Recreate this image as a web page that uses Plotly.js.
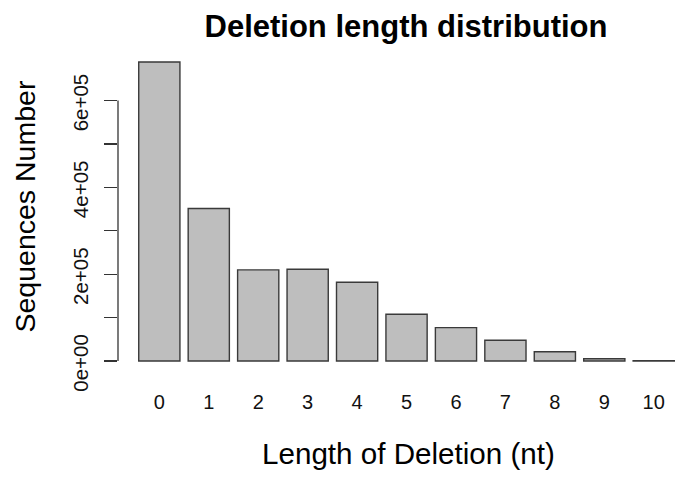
<!DOCTYPE html>
<html>
<head>
<meta charset="utf-8">
<script src="https://cdn.plot.ly/plotly-3.0.1.min.js"></script>
<style>html,body{margin:0;padding:0;background:#fff;}</style>
</head>
<body>
<div id="chart" style="width:675px;height:478px;"></div>
<script>
// Data
const deletionLengths = [0, 1, 2, 3, 4, 5, 6, 7, 8, 9, 10];
const sequenceCounts = [689000, 351500, 210000, 211600, 181600, 107800, 77000, 47800, 21500, 5300, 900];
const yTickVals = [0, 100000, 200000, 300000, 400000, 500000, 600000];
const yTickText = ['0e+00', '', '2e+05', '', '4e+05', '', '6e+05'];
const xTickText = deletionLengths.map(String);

const FONT = 'Liberation Sans, Arial, Helvetica, sans-serif';

// plot area in pixels (for placing titles)
const L = 118, T = 50, W = 557, H = 323;
const px2x = p => (p - L) / W;
const px2y = p => (T + H - p) / H;

const trace = {
  type: 'bar',
  x: deletionLengths,
  y: sequenceCounts,
  marker: { color: '#bebebe', line: { color: '#3a3a3a', width: 1.4 } },
  hoverinfo: 'skip'
};

const layout = {
  width: 675,
  height: 478,
  margin: { l: L, r: 0, t: T, b: 478 - T - H, pad: 0 },
  paper_bgcolor: '#ffffff',
  plot_bgcolor: '#ffffff',
  showlegend: false,
  bargap: 1 / 6,
  font: { family: FONT, color: '#000' },
  title: {
    text: '<b>Deletion length distribution</b>',
    font: { family: FONT, size: 31, color: '#000' },
    x: 406 / 675, xanchor: 'center', xref: 'container',
    y: 1 - 26 / 478, yanchor: 'middle', yref: 'container'
  },
  xaxis: {
    range: [-0.836, 10.43],
    tickvals: deletionLengths,
    ticktext: xTickText,
    showgrid: false, zeroline: false, showline: false,
    ticks: '',
    ticklabelstandoff: 15,
    tickfont: { family: FONT, size: 20, color: '#111' }
  },
  yaxis: {
    range: [-27560, 716600],
    tickvals: yTickVals,
    ticktext: yTickText,
    showgrid: false, zeroline: false, showline: false,
    ticks: 'outside', ticklen: 13, tickwidth: 1.3, tickcolor: '#333',
    tickangle: -90,
    ticklabelstandoff: 8,
    ticklabelshift: 5,
    tickfont: { family: FONT, size: 20.5, color: '#111' }
  },
  annotations: [
    { text: 'Length of Deletion (nt)', xref: 'paper', yref: 'paper',
      x: px2x(408.5), y: px2y(453), xanchor: 'center', yanchor: 'middle',
      showarrow: false, font: { family: FONT, size: 29.6, color: '#000' } },
    { text: 'Sequences Number', xref: 'paper', yref: 'paper', textangle: -90,
      x: px2x(24), y: px2y(206.5), xanchor: 'center', yanchor: 'middle',
      showarrow: false, font: { family: FONT, size: 28.5, color: '#000' } }
  ],
  shapes: [
    { type: 'line', xref: 'paper', yref: 'y', x0: 0, x1: 0, y0: 0, y1: 600000,
      line: { color: '#333', width: 1.3 } }
  ]
};

Plotly.newPlot('chart', [trace], layout, { displayModeBar: false, staticPlot: true });
</script>
</body>
</html>
